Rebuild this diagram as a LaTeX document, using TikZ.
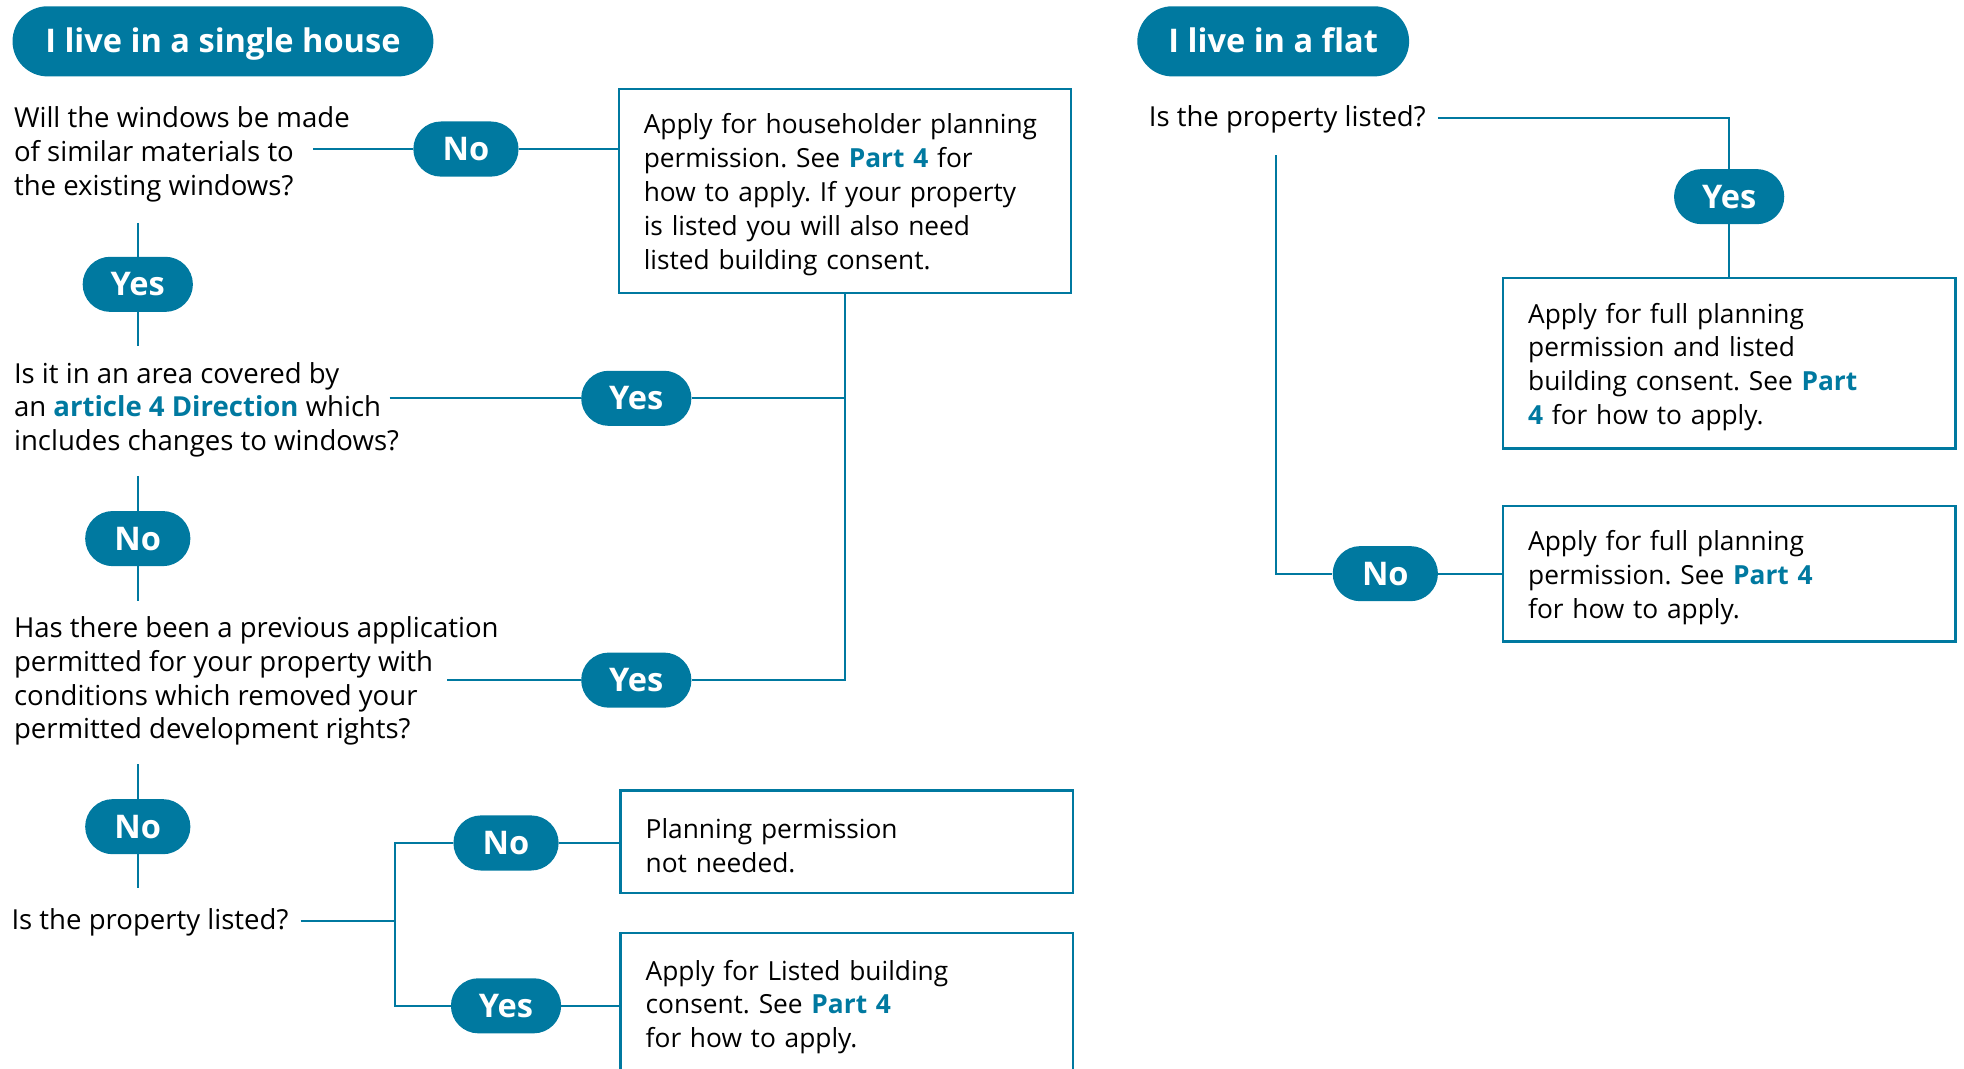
\documentclass[tikz,border=0pt]{standalone}
\usepackage{fontspec}
\setmainfont{Open Sans}
\frenchspacing
\usetikzlibrary{positioning}
\definecolor{planblue}{RGB}{0,121,160}
\newcommand{\hilite}[1]{{\bfseries\color{planblue}#1}}

\begin{document}
\begin{tikzpicture}[x=1pt, y=-1pt,
    flow/.style={draw=planblue, line width=1.6pt},
    pill/.style={fill=planblue, text=white, rounded corners=22pt, minimum height=44pt, inner sep=0pt, text height=18.5pt, text depth=0pt, font=\fontsize{26}{30}\selectfont\bfseries},
    pillno/.style={pill, minimum width=84pt},
    pillyes/.style={pill, minimum width=88pt},
    header/.style={pill, minimum height=56pt, rounded corners=28pt},
    question/.style={anchor=north west, align=left, inner sep=0pt, font=\fontsize{22}{27}\selectfont},
    result/.style={draw=planblue, line width=2pt, align=left, text width=321pt, inner xsep=20pt, inner ysep=0pt, font=\fontsize{21}{27}\selectfont, execute at begin node={\rule{0pt}{22pt}}},
]

    % Picture frame
    \useasboundingbox (0,0) rectangle (1568,853);
    \clip (0,0) rectangle (1568,853);

    % Single house
    \node[header, minimum width=336pt] (house) at (178,33) {I live in a single house};
    \node[question] (q1) at (11,85) {Will the windows be made\\ of similar materials to\\ the existing windows?};
    \node[pillno] (no1) at (372,119) {No};
    \node[result, minimum height=163pt] (box1) at (674.5,152.5) {Apply for householder planning\\ permission. See \hilite{Part 4} for\\ how to apply. If your property\\ is listed you will also need\\ listed building consent.};
    \node[pillyes] (yes1) at (110,227) {Yes};
    \node[question] (q2) at (11,289) {Is it in an area covered by\\ an \hilite{article 4 Direction} which\\ includes changes to windows?};
    \node[pillyes] (yes2) at (508,318) {Yes};
    \node[pillno] (no2) at (110,430) {No};
    \node[question] (q3) at (11,492) {Has there been a previous application\\ permitted for your property with\\ conditions which removed your\\ permitted development rights?};
    \node[pillyes] (yes3) at (508,543) {Yes};
    \node[pillno] (no3) at (110,660) {No};
    \node[question] (q4) at (9,725) {Is the property listed?};
    \node[pillno] (no4) at (404,673) {No};
    \node[pillyes] (yes4) at (404,803) {Yes};
    \node[result, minimum height=82pt] (box3) at (676,672) {Planning permission\\ not needed.};
    \node[result, minimum height=112pt] (box4) at (676,801) {Apply for Listed building\\ consent. See \hilite{Part 4}\\ for how to apply.};

    % Free ends of the connectors
    \coordinate (q1out) at (250,119);
    \coordinate (q1down) at (110,178);
    \coordinate (q2up) at (110,276);
    \coordinate (q2out) at (311,318);
    \coordinate (q2down) at (110,380);
    \coordinate (q3up) at (110,480);
    \coordinate (q3out) at (357,543);
    \coordinate (q3down) at (110,610);
    \coordinate (q4up) at (110,709);
    \coordinate (q4out) at (240,735);
    \coordinate (q4fork) at (315,735);

    % Connectors
    \draw[flow] (q1out) -- (no1) -- (no1 -| box1.west);
    \draw[flow] (q1down) -- (yes1) -- (q2up);
    \draw[flow] (q2out) -- (yes2) -- (yes2 -| box1.south);
    \draw[flow] (box1.south) |- (yes3.east);
    \draw[flow] (q3out) -- (yes3);
    \draw[flow] (q2down) -- (no2) -- (q3up);
    \draw[flow] (q3down) -- (no3) -- (q4up);
    \draw[flow] (q4out) -- (q4fork);
    \draw[flow] (no4.west) -| (q4fork) |- (yes4.west);
    \draw[flow] (no4) -- (no4 -| box3.west);
    \draw[flow] (yes4) -- (yes4 -| box4.west);

    % Flat
    \node[header, minimum width=217pt] (flat) at (1016.5,33) {I live in a flat};
    \node[question] (q5) at (917,84) {Is the property listed?};
    \node[pillyes] (yes5) at (1380.5,157) {Yes};
    \node[result, minimum height=136pt] (box5) at (1380.5,290) {Apply for full planning\\ permission and listed\\ building consent. See \hilite{Part}\\ \hilite{4} for how to apply.};
    \node[pillno] (no5) at (1106,458) {No};
    \node[result, minimum height=108pt] (box6) at (1380.5,458) {Apply for full planning\\ permission. See \hilite{Part 4}\\ for how to apply.};
    \coordinate (q5out) at (1148,94);
    \coordinate (q5down) at (1019,124);
    \draw[flow] (q5out) -| (yes5) -- (box5);
    \draw[flow] (q5down) |- (no5) -- (box6);

\end{tikzpicture}
\end{document}
